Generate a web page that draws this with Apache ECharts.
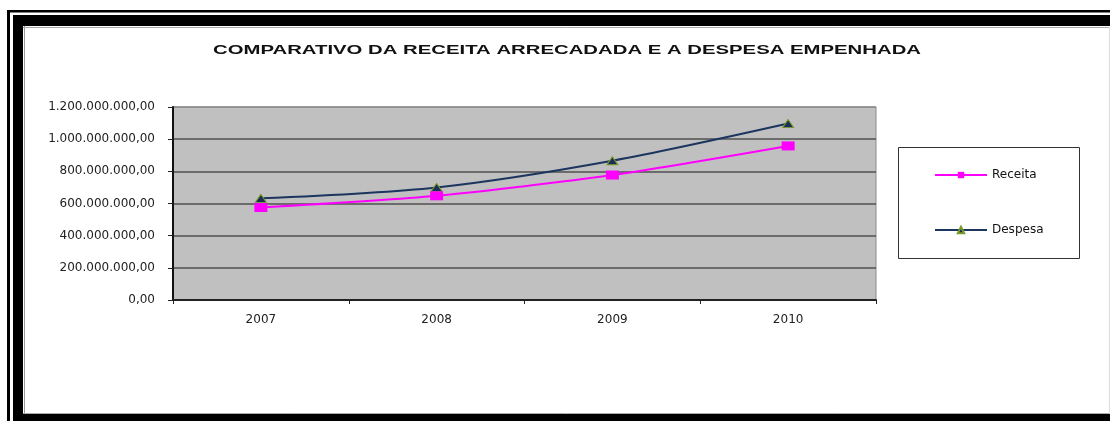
<!DOCTYPE html>
<html>
<head>
<meta charset="utf-8">
<script src="https://cdn.jsdelivr.net/npm/echarts@6/dist/echarts.min.js"></script>
<style>
  html, body { margin: 0; padding: 0; background: #fff; }
  #chart { width: 1110px; height: 421px; }
</style>
</head>
<body>
<div id="chart"></div>
<script>
// data
const anos = ['2007', '2008', '2009', '2010'];
const receita = [575000000, 648000000, 777000000, 958000000];
const despesa = [632000000, 700000000, 866000000, 1097000000];
const yTicks = [0, 200000000, 400000000, 600000000, 800000000, 1000000000, 1200000000];

const titulo = 'COMPARATIVO DA RECEITA ARRECADADA E A DESPESA EMPENHADA';

// brazilian number format: 1.200.000.000,00
function fmtBR(v) {
  const s = String(Math.round(v));
  return s.replace(/\B(?=(\d{3})+(?!\d))/g, '.') + ',00';
}

// the original image is stretched sideways, so stretch the title to its width
const titleFont = 'bold 12px "Liberation Sans", Arial, sans-serif';
const cv = document.createElement('canvas').getContext('2d');
cv.font = titleFont;
const titleScale = 708 / cv.measureText(titulo).width;

const chart = echarts.init(document.getElementById('chart'));

const option = {
  animation: false,
  backgroundColor: '#fff',
  textStyle: { fontFamily: '"DejaVu Sans", sans-serif' },
  grid: {
    left: 173, right: 234, top: 107, bottom: 121,
    show: true,
    backgroundColor: '#C0C0C0',
    borderColor: '#8a8a8a',
    borderWidth: 1
  },
  legend: {
    orient: 'vertical',
    left: 934,
    top: 169,
    padding: 0,
    itemWidth: 52,
    itemHeight: 8,
    itemGap: 43,
    textStyle: { fontSize: 12, color: '#111', fontFamily: '"DejaVu Sans", sans-serif' },
    data: ['Receita', 'Despesa']
  },
  xAxis: {
    type: 'category',
    data: anos,
    boundaryGap: true,
    axisLine: { lineStyle: { color: '#222', width: 2 } },
    axisTick: { show: true, length: 4, inside: false, lineStyle: { color: '#222', width: 1 } },
    axisLabel: { margin: 14, fontSize: 12, color: '#222' },
    splitLine: { show: false }
  },
  yAxis: {
    type: 'value',
    min: yTicks[0],
    max: yTicks[yTicks.length - 1],
    interval: yTicks[1] - yTicks[0],
    axisLine: { show: true, lineStyle: { color: '#111', width: 2 } },
    axisTick: { show: true, length: 5, lineStyle: { color: '#222', width: 1 } },
    axisLabel: { margin: 18, fontSize: 12, color: '#222', formatter: fmtBR },
    splitLine: {
      show: true,
      lineStyle: {
        color: ['#505050', '#505050', '#505050', '#505050', '#505050', '#505050', '#8a8a8a'],
        width: 1.5
      }
    }
  },
  series: [
    {
      name: 'Receita',
      type: 'line',
      data: receita,
      smooth: 0.25,
      symbol: 'rect',
      symbolSize: [13, 9],
      lineStyle: { color: '#FF00FF', width: 2 },
      itemStyle: { color: '#FF00FF' },
      z: 3
    },
    {
      name: 'Despesa',
      type: 'line',
      data: despesa,
      smooth: 0.3,
      symbol: 'triangle',
      symbolSize: [11, 8],
      lineStyle: { color: '#1C355F', width: 2 },
      itemStyle: { color: '#1A2F55', borderColor: '#7A9A2A', borderWidth: 1 },
      z: 2
    }
  ],
  graphic: [
    // outer frame
    { type: 'rect', shape: { x: 7, y: 10, width: 1103, height: 2.5 }, style: { fill: '#000' }, z: 10 },
    { type: 'rect', shape: { x: 7, y: 10, width: 3, height: 411 }, style: { fill: '#000' }, z: 10 },
    { type: 'rect', shape: { x: 13, y: 15, width: 1097, height: 11 }, style: { fill: '#000' }, z: 10 },
    { type: 'rect', shape: { x: 13, y: 15, width: 10, height: 406 }, style: { fill: '#000' }, z: 10 },
    { type: 'rect', shape: { x: 13, y: 414, width: 1097, height: 7 }, style: { fill: '#000' }, z: 10 },
    { type: 'line', shape: { x1: 24.5, y1: 26, x2: 24.5, y2: 414 }, style: { stroke: '#999', lineWidth: 1 }, z: 10 },
    { type: 'line', shape: { x1: 23, y1: 27.5, x2: 1110, y2: 27.5 }, style: { stroke: '#aaa', lineWidth: 1 }, z: 10 },
    { type: 'line', shape: { x1: 23, y1: 413.5, x2: 1110, y2: 413.5 }, style: { stroke: '#aaa', lineWidth: 1 }, z: 10 },
    { type: 'line', shape: { x1: 1109.5, y1: 27, x2: 1109.5, y2: 414 }, style: { stroke: '#ddd', lineWidth: 1 }, z: 10 },
    // legend box
    { type: 'rect', shape: { x: 898.5, y: 147.5, width: 181, height: 111 }, style: { fill: '#fff', stroke: '#333', lineWidth: 1 }, z: -1 },
    // title
    {
      type: 'text',
      x: 567,
      y: 51,
      scaleX: titleScale,
      style: {
        text: titulo,
        font: titleFont,
        fill: '#111',
        align: 'center',
        verticalAlign: 'middle',
        textAlign: 'center',
        textVerticalAlign: 'middle'
      },
      z: 10
    }
  ]
};

chart.setOption(option);
</script>
</body>
</html>
